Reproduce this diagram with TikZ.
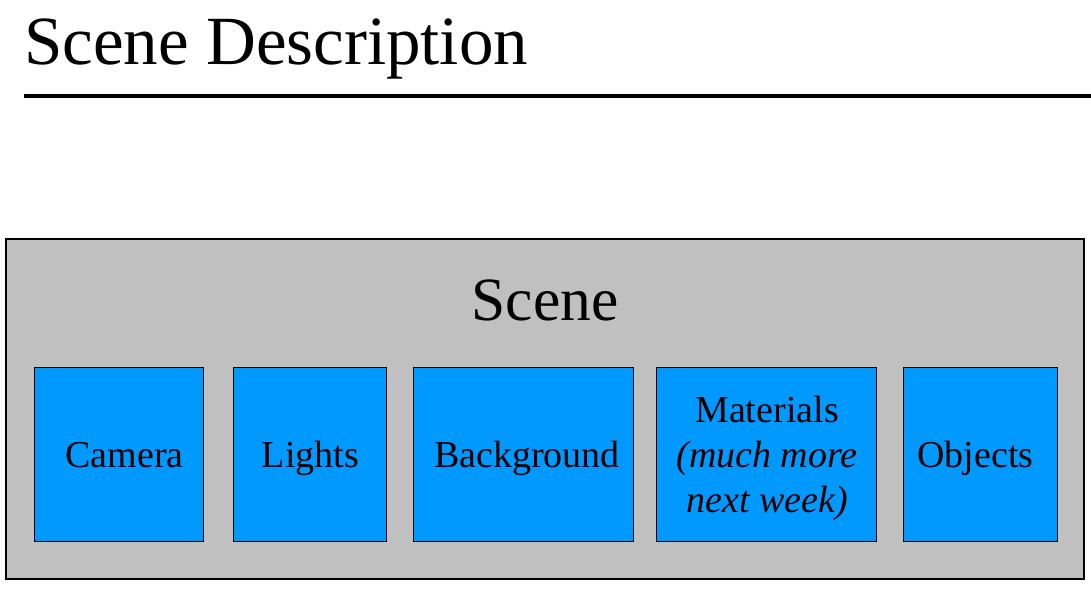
\documentclass[tikz,border=0pt]{standalone}
\usepackage{fontspec}
\setmainfont{Liberation Serif}
\definecolor{scenegrey}{HTML}{C0C0C0}
\definecolor{partblue}{HTML}{0099FF}
\begin{document}
\begin{tikzpicture}[x=1pt,y=-1pt,
  frame/.style={draw=black,line width=1.2pt,fill=scenegrey,inner sep=0pt,outer sep=0pt},
  part/.style={draw=black,line width=1pt,fill=partblue,inner sep=0pt,outer sep=0pt,minimum height=174pt},
  partlabel/.style={anchor=base,inner sep=0pt,font=\fontsize{38}{45}\selectfont},
  heading/.style={anchor=base west,inner sep=0pt,font=\fontsize{69}{80}\selectfont}]
\useasboundingbox (0,0) rectangle (1091,589);
% page heading and rule
\node[heading] (title) at (24,64) {Scene Description};
\coordinate (ruleL) at (24,96);
\coordinate (ruleR) at (1091,96);
\draw[line width=4.5pt] (ruleL) -- (ruleR);
% scene container
\node[frame,minimum width=1078pt,minimum height=340pt] (scene) at (545,409) {};
\node[anchor=base,inner sep=0pt,font=\fontsize{61.5}{70}\selectfont] (scenetitle) at (545,320) {Scene};
% scene components
\node[part,minimum width=169pt] (camera) at (118.5,454) {};
\node[part,minimum width=153pt] (lights) at (309.5,454) {};
\node[part,minimum width=220pt] (background) at (523,454) {};
\node[part,minimum width=220pt] (materials) at (766,454) {};
\node[part,minimum width=154pt] (objects) at (980,454) {};
\node[partlabel] (cameraT) at (124.5,467) {Camera};
\node[partlabel] (lightsT) at (310.5,467) {Lights};
\node[partlabel] (backgroundT) at (527,467) {Background};
\node[partlabel] (materialsT) at (767,422) {Materials};
\node[partlabel] (materialsT2) at (767,467) {\itshape (much more};
\node[partlabel] (materialsT3) at (767,512) {\itshape next week)};
\node[partlabel] (objectsT) at (975.5,467) {Objects};
\end{tikzpicture}
\end{document}
